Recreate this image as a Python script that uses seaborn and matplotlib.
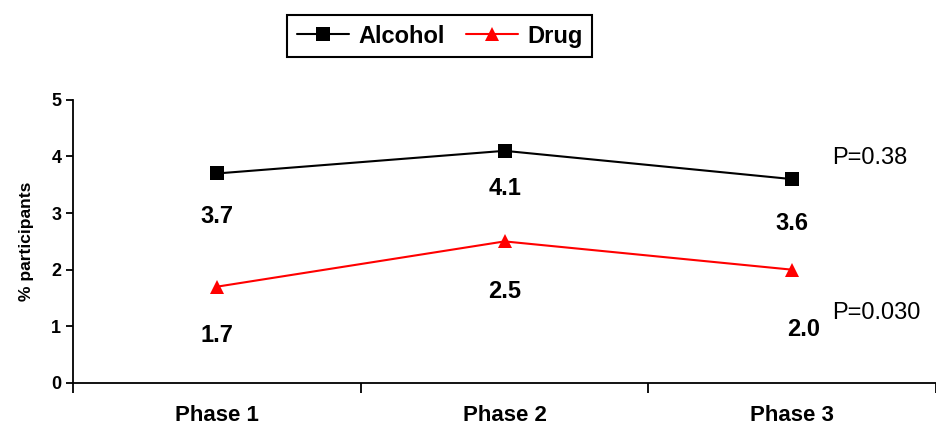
import seaborn as sns
import numpy as np
import pandas as pd
import matplotlib.pyplot as plt

phases = ["Phase 1", "Phase 2", "Phase 3"]
alcohol = [3.7, 4.1, 3.6]
drug = [1.7, 2.5, 2.0]
p_alcohol = "P=0.38"
p_drug = "P=0.030"

sns.set_style("white")
plt.rcParams['font.family'] = ['Liberation Sans', 'DejaVu Sans']
plt.rcParams['text.color'] = 'black'
plt.rcParams['xtick.color'] = 'black'
plt.rcParams['ytick.color'] = 'black'
plt.rcParams['axes.labelcolor'] = 'black'

df = pd.DataFrame({
    "pos": list(range(len(phases))) * 2,
    "value": alcohol + drug,
    "series": ["Alcohol"] * len(phases) + ["Drug"] * len(phases),
})

fig = plt.figure(figsize=(9.37, 4.25), dpi=100)
ax = fig.add_axes([0.078, 0.099, 0.921, 0.666])

sns.lineplot(data=df, x="pos", y="value", hue="series", style="series",
             palette={"Alcohol": "black", "Drug": "red"},
             markers={"Alcohol": "s", "Drug": "^"}, dashes=False,
             markersize=10, linewidth=1.5, markeredgewidth=0, ax=ax)

# value labels under each point
for vals, dy, dxs in [(alcohol, [-31, -27, -32], [0, 0, 0]),
                      (drug, [-35, -36, -43], [0, 0, 8])]:
    for i, v in enumerate(vals):
        ax.annotate(f"{v:.1f}", (i, v), xytext=(dxs[i], dy[i]), textcoords="offset points",
                    ha="center", va="center", fontsize=17, fontweight="bold")

ax.text(2.14, 3.98, p_alcohol, fontsize=17, va="center", ha="left")
ax.text(2.14, 1.24, p_drug, fontsize=17, va="center", ha="left")

ax.set_xlim(-0.5, 2.5)
ax.set_ylim(0, 5)
ax.set_yticks(range(6))
ax.set_xticks(range(len(phases)))
ax.set_xticklabels(phases, fontsize=16, fontweight="bold")
ax.set_xticks(np.arange(-0.5, 2.6, 1), minor=True)
ax.tick_params(axis="x", which="major", bottom=False, length=0, pad=16)
ax.tick_params(axis="x", which="minor", bottom=True, direction="out", length=7, width=1.3)
ax.tick_params(axis="y", left=True, direction="out", length=5, width=1.3, labelsize=13)
for lbl in ax.get_yticklabels():
    lbl.set_fontweight("bold")
ax.set_xlabel("")
ax.set_ylabel("% participants", fontsize=12.5, fontweight="bold", labelpad=12)

sns.despine(ax=ax)
for s in ["left", "bottom"]:
    ax.spines[s].set_linewidth(1.3)
    ax.spines[s].set_color("black")

handles, labels = ax.get_legend_handles_labels()
ax.legend_.remove()
leg = fig.legend(handles, labels, loc="center", bbox_to_anchor=(0.469, 0.915), ncol=2,
                 frameon=True, fancybox=False, edgecolor="black", framealpha=1,
                 prop={"size": 17, "weight": "bold"}, handlelength=2.2,
                 columnspacing=0.9, handletextpad=0.4, borderpad=0.4)
leg.get_frame().set_linewidth(1.5)

plt.savefig("out.png", dpi=100)
